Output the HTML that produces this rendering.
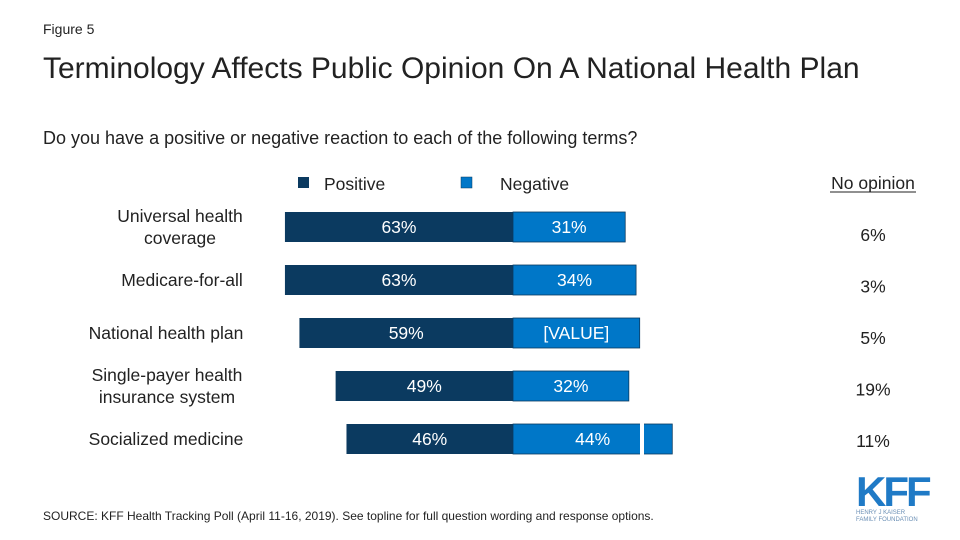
<!DOCTYPE html>
<html><head><meta charset="utf-8"><style>
body{margin:0;width:960px;height:540px;background:#fff;font-family:"Liberation Sans",sans-serif;overflow:hidden;position:relative}
.t{position:absolute;color:#222;white-space:nowrap}
</style></head><body>
<div class="t" style="left:43px;top:21px;font-size:14px">Figure 5</div>
<div class="t" style="left:43px;top:52px;font-size:30px;color:#222">Terminology Affects Public Opinion On A National Health Plan</div>
<div class="t" style="left:43px;top:128px;font-size:18px">Do you have a positive or negative reaction to each of the following terms?</div>
<div class="t" style="left:43px;top:509px;font-size:12px">SOURCE: KFF Health Tracking Poll (April 11-16, 2019). See topline for full question wording and response options.</div>
<div style="position:absolute;left:856px;top:474px;width:72px;color:#1f7ac6">
<div style="font-size:42px;font-weight:bold;line-height:36px;letter-spacing:-3px">KFF</div>
<div style="font-size:6px;line-height:7px;color:#6a8fb5">HENRY J KAISER<br>FAMILY FOUNDATION</div></div>
<svg id="chart" width="960" height="540" style="position:absolute;left:0;top:0" font-family="Liberation Sans, sans-serif"></svg>
<script>
const categories=["Universal health|coverage","Medicare-for-all","National health plan","Single-payer health|insurance system","Socialized medicine"];
const positive=[63,63,59,49,46];
const negative=[31,34,35,32,44];
const negLabels=["31%","34%","[VALUE]","32%","44%"];
const noOpinion=[6,3,5,19,11];
const svg=document.getElementById('chart');
const NS="http://www.w3.org/2000/svg";
const cx=513, scale=3.62, y0=227, step=53, bh=30, fs=17.5;
const labelCenters=[180,182,166,167,166];
const x=v=>v*scale;
const rowY=i=>y0+i*step;
function el(t,a){const e=document.createElementNS(NS,t);for(const k in a)e.setAttribute(k,a[k]);svg.appendChild(e);return e;}
let e=el('rect',{x:298,y:177,width:11,height:11,fill:'#0b3a60'});

e=el('text',{x:324,y:190,'font-size':fs,fill:'#222'});e.textContent='Positive';

e=el('rect',{x:461,y:177,width:11,height:11,fill:'#0077c8',stroke:'#0b3a60','stroke-width':0.5});

e=el('text',{x:500,y:190,'font-size':fs,fill:'#222'});e.textContent='Negative';

e=el('text',{x:873,y:189,'font-size':fs,fill:'#222','text-anchor':'middle'});e.textContent='No opinion';

el('line',{x1:830,x2:916,y1:192,y2:192,stroke:'#222','stroke-width':1});
categories.forEach((c,i)=>{
  const yc=rowY(i);
  const lines=c.split('|');
  lines.forEach((ln,j)=>{
    const t=el('text',{x:labelCenters[i],y:yc+6+(j-(lines.length-1)/2)*22,'font-size':fs,fill:'#222','text-anchor':'middle'});
    t.textContent=ln;
    
  });
  const pw=x(positive[i]);
  let r=el('rect',{x:cx-pw,y:yc-bh/2,width:pw,height:bh,fill:'#0b3a60'});
  
  const nw=x(negative[i]);
  r=el('rect',{x:cx,y:yc-bh/2,width:nw,height:bh,fill:'#0077c8',stroke:'#0b3a60','stroke-width':0.8});
  
  if(i===4){el('rect',{x:640,y:yc-bh/2-1,width:4,height:bh+2,fill:'#fff'});}
  let t=el('text',{x:cx-pw/2,y:yc+6,'font-size':fs,fill:'#fff','text-anchor':'middle'});
  t.textContent=positive[i]+'%';
  
  t=el('text',{x:cx+nw/2,y:yc+6,'font-size':fs,fill:'#fff','text-anchor':'middle'});
  t.textContent=negLabels[i];
  
  t=el('text',{x:873,y:235+i*51.5+6,'font-size':fs,fill:'#222','text-anchor':'middle'});
  t.textContent=noOpinion[i]+'%';
  
});
</script>
</body></html>
